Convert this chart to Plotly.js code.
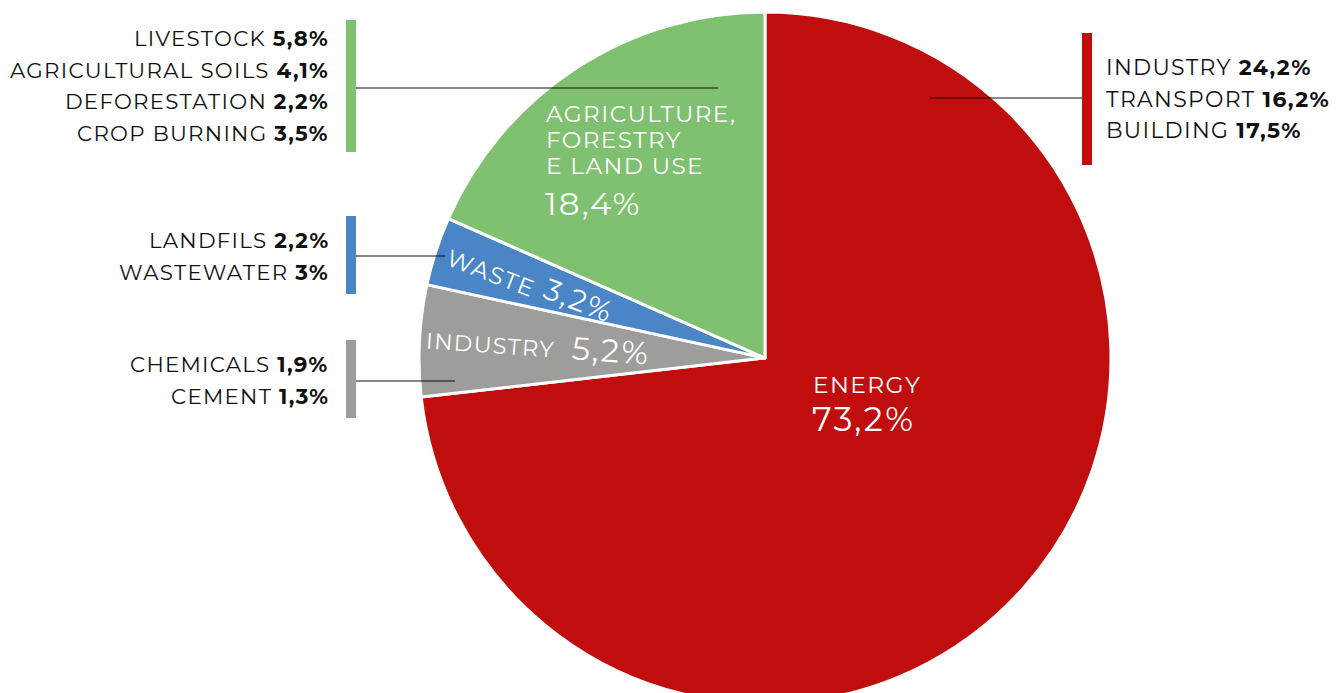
<!DOCTYPE html>
<html>
<head>
<meta charset="utf-8">
<script src="https://cdn.plot.ly/plotly-3.0.1.min.js"></script>
<style>
html,body{margin:0;padding:0;overflow:hidden;background:#fff}
.annotation-text{letter-spacing:0.06em}
</style>
</head>
<body>
<div id="chart"></div>
<script>
// ---- data ----
const sectors = ['ENERGY', 'INDUSTRY', 'WASTE', 'AGRICULTURE, FORESTRY E LAND USE'];
const shares = [73.2, 5.2, 3.2, 18.4];
const sectorColors = ['#C00E0E', '#9D9D9C', '#4A85C6', '#80C071'];

const energyItems = ['INDUSTRY', 'TRANSPORT', 'BUILDING'];
const energyValues = ['24,2%', '16,2%', '17,5%'];
const agriItems = ['LIVESTOCK', 'AGRICULTURAL SOILS', 'DEFORESTATION', 'CROP BURNING'];
const agriValues = ['5,8%', '4,1%', '2,2%', '3,5%'];
const wasteItems = ['LANDFILS', 'WASTEWATER'];
const wasteValues = ['2,2%', '3%'];
const industryItems = ['CHEMICALS', 'CEMENT'];
const industryValues = ['1,9%', '1,3%'];

// ---- layout helpers ----
const W = 1344, H = 712;
const FONT = 'Montserrat, "Open Sans", "Noto Sans", sans-serif';
const px = x => x / W;
const py = y => 1 - y / H;
const fmt = v => v.toFixed(1).replace('.', ',') + '%';

const annotations = [];
const shapes = [];

function listBlock(items, values, xEdge, yStart, step, anchor, size) {
  items.forEach((it, i) => {
    annotations.push({
      x: px(xEdge), y: py(yStart + i * step), xref: 'paper', yref: 'paper',
      text: it + ' <b>' + values[i] + '</b>', showarrow: false,
      xanchor: anchor, yanchor: 'middle', align: anchor,
      font: {family: FONT, size: size, color: '#111'}
    });
  });
}
function bar(x0, y0, y1, color) {
  shapes.push({type: 'rect', xref: 'paper', yref: 'paper', x0: px(x0), x1: px(x0 + 10),
    y0: py(y1), y1: py(y0), fillcolor: color, line: {width: 0}});
}
function hline(x0, x1, y) {
  shapes.push({type: 'line', xref: 'paper', yref: 'paper', x0: px(x0), x1: px(x1),
    y0: py(y), y1: py(y), line: {color: '#111', width: 1.2}});
}

// left & right breakdown blocks
listBlock(agriItems, agriValues, 331, 38, 31.7, 'right', 21.3);
bar(346, 20, 152, sectorColors[3]); hline(356, 718, 88);
listBlock(wasteItems, wasteValues, 331, 240, 31.7, 'right', 21.3);
bar(346, 216, 294, sectorColors[2]); hline(356, 445, 256);
listBlock(industryItems, industryValues, 331, 364, 31.7, 'right', 21.3);
bar(346, 340, 418, sectorColors[1]); hline(356, 455, 381);
listBlock(energyItems, energyValues, 1104, 67, 31.5, 'left', 21.9);
bar(1082, 33, 165, sectorColors[0]); hline(930, 1082, 98);

// in-slice labels
function lab(text, x, y, size, angle, anchor) {
  annotations.push({x: px(x), y: py(y), xref: 'paper', yref: 'paper', text: text,
    showarrow: false, xanchor: anchor || 'left', yanchor: 'middle', textangle: angle || 0,
    align: 'left', font: {family: FONT, size: size, color: '#fff'}});
}
lab('AGRICULTURE,', 544, 114, 23.2);
lab('FORESTRY', 544, 140, 23.2);
lab('E LAND USE', 544, 166, 23.2);
lab(fmt(shares[3]), 543, 203, 32.5);
lab(sectors[0], 811, 384, 23.3);
lab(fmt(shares[0]), 810, 419, 33.5);
lab(sectors[1], 490, 345, 22.5, 4, 'center');
lab(fmt(shares[1]), 611, 351, 32, 4, 'center');
lab(sectors[2], 492, 273, 23.5, 21, 'center');
lab(fmt(shares[2]), 579, 300, 29.5, 21, 'center');

const trace = {
  type: 'pie', values: shares, labels: sectors, sort: false,
  direction: 'clockwise', rotation: 0, textinfo: 'none', hoverinfo: 'none',
  marker: {colors: sectorColors, line: {color: '#fff', width: 3}},
  domain: {x: [419 / W, 1111 / W], y: [1 - 704 / H, 1 - 12 / H]}
};

Plotly.newPlot('chart', [trace], {
  width: W, height: H, margin: {l: 0, r: 0, t: 0, b: 0},
  showlegend: false, paper_bgcolor: '#fff',
  annotations: annotations, shapes: shapes
}, {staticPlot: true});
</script>
</body>
</html>
